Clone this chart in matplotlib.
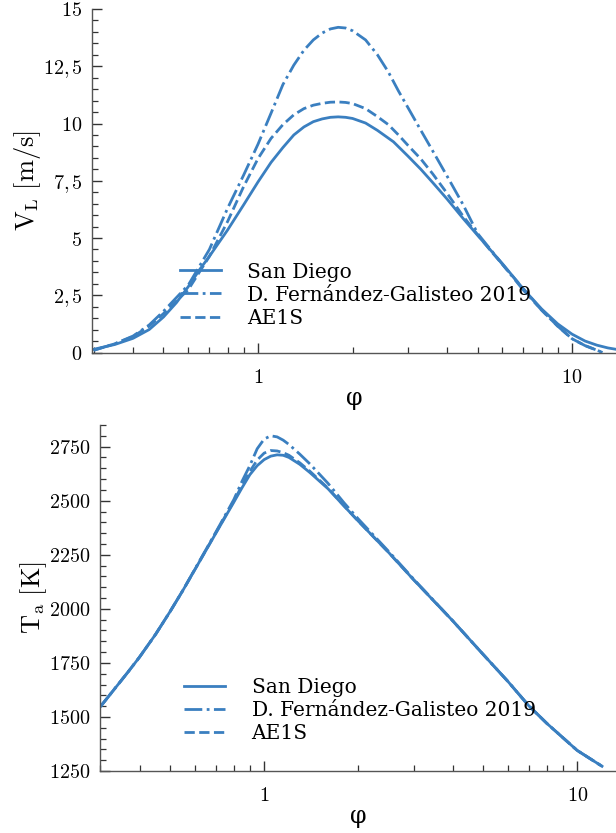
import numpy as np
import matplotlib
matplotlib.use("Agg")
import matplotlib.pyplot as plt
from matplotlib.ticker import FixedLocator, FuncFormatter, LogLocator, NullFormatter, MultipleLocator

plt.rcParams['mathtext.fontset'] = 'cm'
plt.rcParams['font.family'] = ['DejaVu Serif']

# ---------------- data: top panel (V_L) ----------------
phi_v_sd = [0.3, 0.35, 0.4, 0.45, 0.5, 0.55, 0.6, 0.65, 0.7, 0.8, 0.9, 1.0, 1.1, 1.2, 1.3, 1.4,
            1.5, 1.6, 1.7, 1.8, 1.9, 2.0, 2.2, 2.4, 2.7, 3.0, 3.3, 3.6, 4.0, 4.5, 5.0, 6.0, 7.0,
            8.0, 9.0, 10.0, 11.0, 12.0, 13.0, 13.8]
v_sd = [0.14, 0.35, 0.62, 1.0, 1.55, 2.18, 2.88, 3.6, 4.2, 5.35, 6.45, 7.45, 8.3, 8.95, 9.5, 9.85,
        10.08, 10.2, 10.27, 10.29, 10.27, 10.22, 10.02, 9.7, 9.2, 8.58, 8.0, 7.42, 6.7, 5.85, 5.12, 3.88, 2.77,
        1.9, 1.25, 0.8, 0.5, 0.32, 0.2, 0.14]

phi_v_mod = [0.3, 0.35, 0.4, 0.45, 0.5, 0.6, 0.7, 0.8, 0.9, 1.0, 1.1, 1.2, 1.3, 1.4, 1.5, 1.6,
             1.7, 1.8, 1.9, 2.0, 2.2, 2.4, 2.6, 2.8, 3.0, 3.3, 3.6, 4.0, 4.5, 5.0, 5.5, 6.0,
             7.0, 8.0, 9.0, 10.0, 11.0, 12.0, 12.5]
v_dfg = [0.1, 0.38, 0.72, 1.2, 1.8, 2.95, 4.5, 6.3, 7.75, 9.1, 10.45, 11.7, 12.55, 13.2, 13.65, 13.95,
         14.13, 14.2, 14.17, 14.05, 13.65, 13.0, 12.25, 11.42, 10.7, 9.7, 8.8, 7.7, 6.45, 5.2, 4.5, 3.85,
         2.72, 1.85, 1.15, 0.6, 0.3, 0.1, 0.0]
v_ae1s = [0.1, 0.38, 0.7, 1.15, 1.7, 2.75, 4.2, 5.72, 7.25, 8.47, 9.35, 9.95, 10.38, 10.65, 10.8, 10.88,
          10.93, 10.94, 10.92, 10.87, 10.65, 10.3, 9.95, 9.5, 9.05, 8.45, 7.8, 6.95, 5.95, 5.15, 4.45, 3.85,
          2.78, 1.85, 1.15, 0.6, 0.3, 0.1, 0.0]

# ---------------- data: bottom panel (T_a) ----------------
phi_t = [0.3, 0.33, 0.368, 0.4, 0.45, 0.5, 0.55, 0.6, 0.7, 0.8, 0.85, 0.9, 0.95, 1.0, 1.05, 1.1,
         1.15, 1.2, 1.3, 1.4, 1.6, 1.8, 2.0, 2.5, 3.0, 4.0, 5.0, 6.0, 7.0, 8.0, 10.0, 12.0]
t_sd = [1548, 1623, 1709, 1777, 1882, 1986, 2085, 2180, 2348, 2493, 2560, 2620, 2662, 2690, 2706, 2712,
        2710, 2700, 2668, 2630, 2555, 2475, 2405, 2260, 2135, 1945, 1790, 1665, 1552, 1470, 1345, 1272]
t_dfg = [1548, 1623, 1709, 1777, 1882, 1986, 2085, 2182, 2353, 2505, 2590, 2662, 2740, 2785, 2800, 2795,
         2780, 2760, 2715, 2670, 2580, 2490, 2415, 2265, 2138, 1945, 1790, 1665, 1552, 1470, 1345, 1272]
t_ae1s = [1548, 1623, 1709, 1777, 1882, 1986, 2085, 2180, 2350, 2498, 2570, 2635, 2688, 2720, 2732, 2730,
          2722, 2710, 2675, 2636, 2558, 2476, 2405, 2260, 2135, 1945, 1790, 1665, 1552, 1470, 1345, 1272]

labels = ["San Diego", "D. Fernández-Galisteo 2019", "AE1S"]
color = "#3a7fc0"
lw = 2.0

W, H = 616, 833
fig = plt.figure(figsize=(W / 100, H / 100), dpi=100)

ax1 = fig.add_axes([92 / W, 1 - 352.5 / H, (W - 92) / W, (352.5 - 9) / H])
ax2 = fig.add_axes([100 / W, 1 - 771 / H, (W - 100) / W, (771 - 425) / H])

ax1.plot(phi_v_sd, v_sd, color=color, lw=lw, ls='-', label=labels[0])
ax1.plot(phi_v_mod, v_dfg, color=color, lw=lw, ls='-.', label=labels[1])
ax1.plot(phi_v_mod, v_ae1s, color=color, lw=lw, ls='--', label=labels[2])

ax2.plot(phi_t, t_sd, color=color, lw=lw, ls='-', label=labels[0])
ax2.plot(phi_t, t_dfg, color=color, lw=lw, ls='-.', label=labels[1])
ax2.plot(phi_t, t_ae1s, color=color, lw=lw, ls='--', label=labels[2])


def comma_fmt(v, pos):
    s = ("%g" % v).replace('.', r'{,}\,')
    return "$%s$" % s


def xfmt(v, pos):
    return "$%g$" % v


for ax in (ax1, ax2):
    ax.set_xscale('log')
    for s in ('top', 'right'):
        ax.spines[s].set_visible(False)
    for s in ('left', 'bottom'):
        ax.spines[s].set_color('#555555')
        ax.spines[s].set_linewidth(1.0)
    ax.xaxis.set_major_locator(FixedLocator([1, 10]))
    ax.xaxis.set_major_formatter(FuncFormatter(xfmt))
    ax.xaxis.set_minor_locator(LogLocator(base=10, subs=np.arange(2, 10), numticks=20))
    ax.xaxis.set_minor_formatter(NullFormatter())
    ax.yaxis.set_major_formatter(FuncFormatter(comma_fmt))
    ax.tick_params(which='major', direction='in', length=7, width=1.0, color='#333333',
                   labelsize=14.5)
    ax.tick_params(axis='y', which='major', pad=7)
    ax.tick_params(axis='x', which='major', pad=11)
    ax.tick_params(which='minor', direction='in', length=4, width=0.9, color='#333333')
    ax.set_xlabel('φ', fontsize=17, labelpad=0)

legend_kw = dict(frameon=False, fontsize=14.5, handlelength=2.05, handletextpad=1.3,
                 labelspacing=0.2, loc='upper left', borderpad=0, borderaxespad=0)

ax1.set_xlim(0.296, 13.8)
ax1.set_ylim(0, 15)
ax1.yaxis.set_major_locator(MultipleLocator(2.5))
ax1.yaxis.set_minor_locator(MultipleLocator(0.5))
ax1.set_ylabel(r'$\mathrm{V_L\ [m/s]}$', fontsize=19, labelpad=0)
ax1.legend(bbox_to_anchor=(0.168, 0.262), **legend_kw)

ax2.set_xlim(0.299, 13.3)
ax2.set_ylim(1250, 2850)
ax2.yaxis.set_major_locator(MultipleLocator(250))
ax2.yaxis.set_minor_locator(MultipleLocator(50))
ax2.set_ylabel(r'$\mathrm{T_a\ [K]}$', fontsize=19, labelpad=0)
ax2.legend(bbox_to_anchor=(0.163, 0.27), **legend_kw)

fig.savefig("out.png", dpi=100)
